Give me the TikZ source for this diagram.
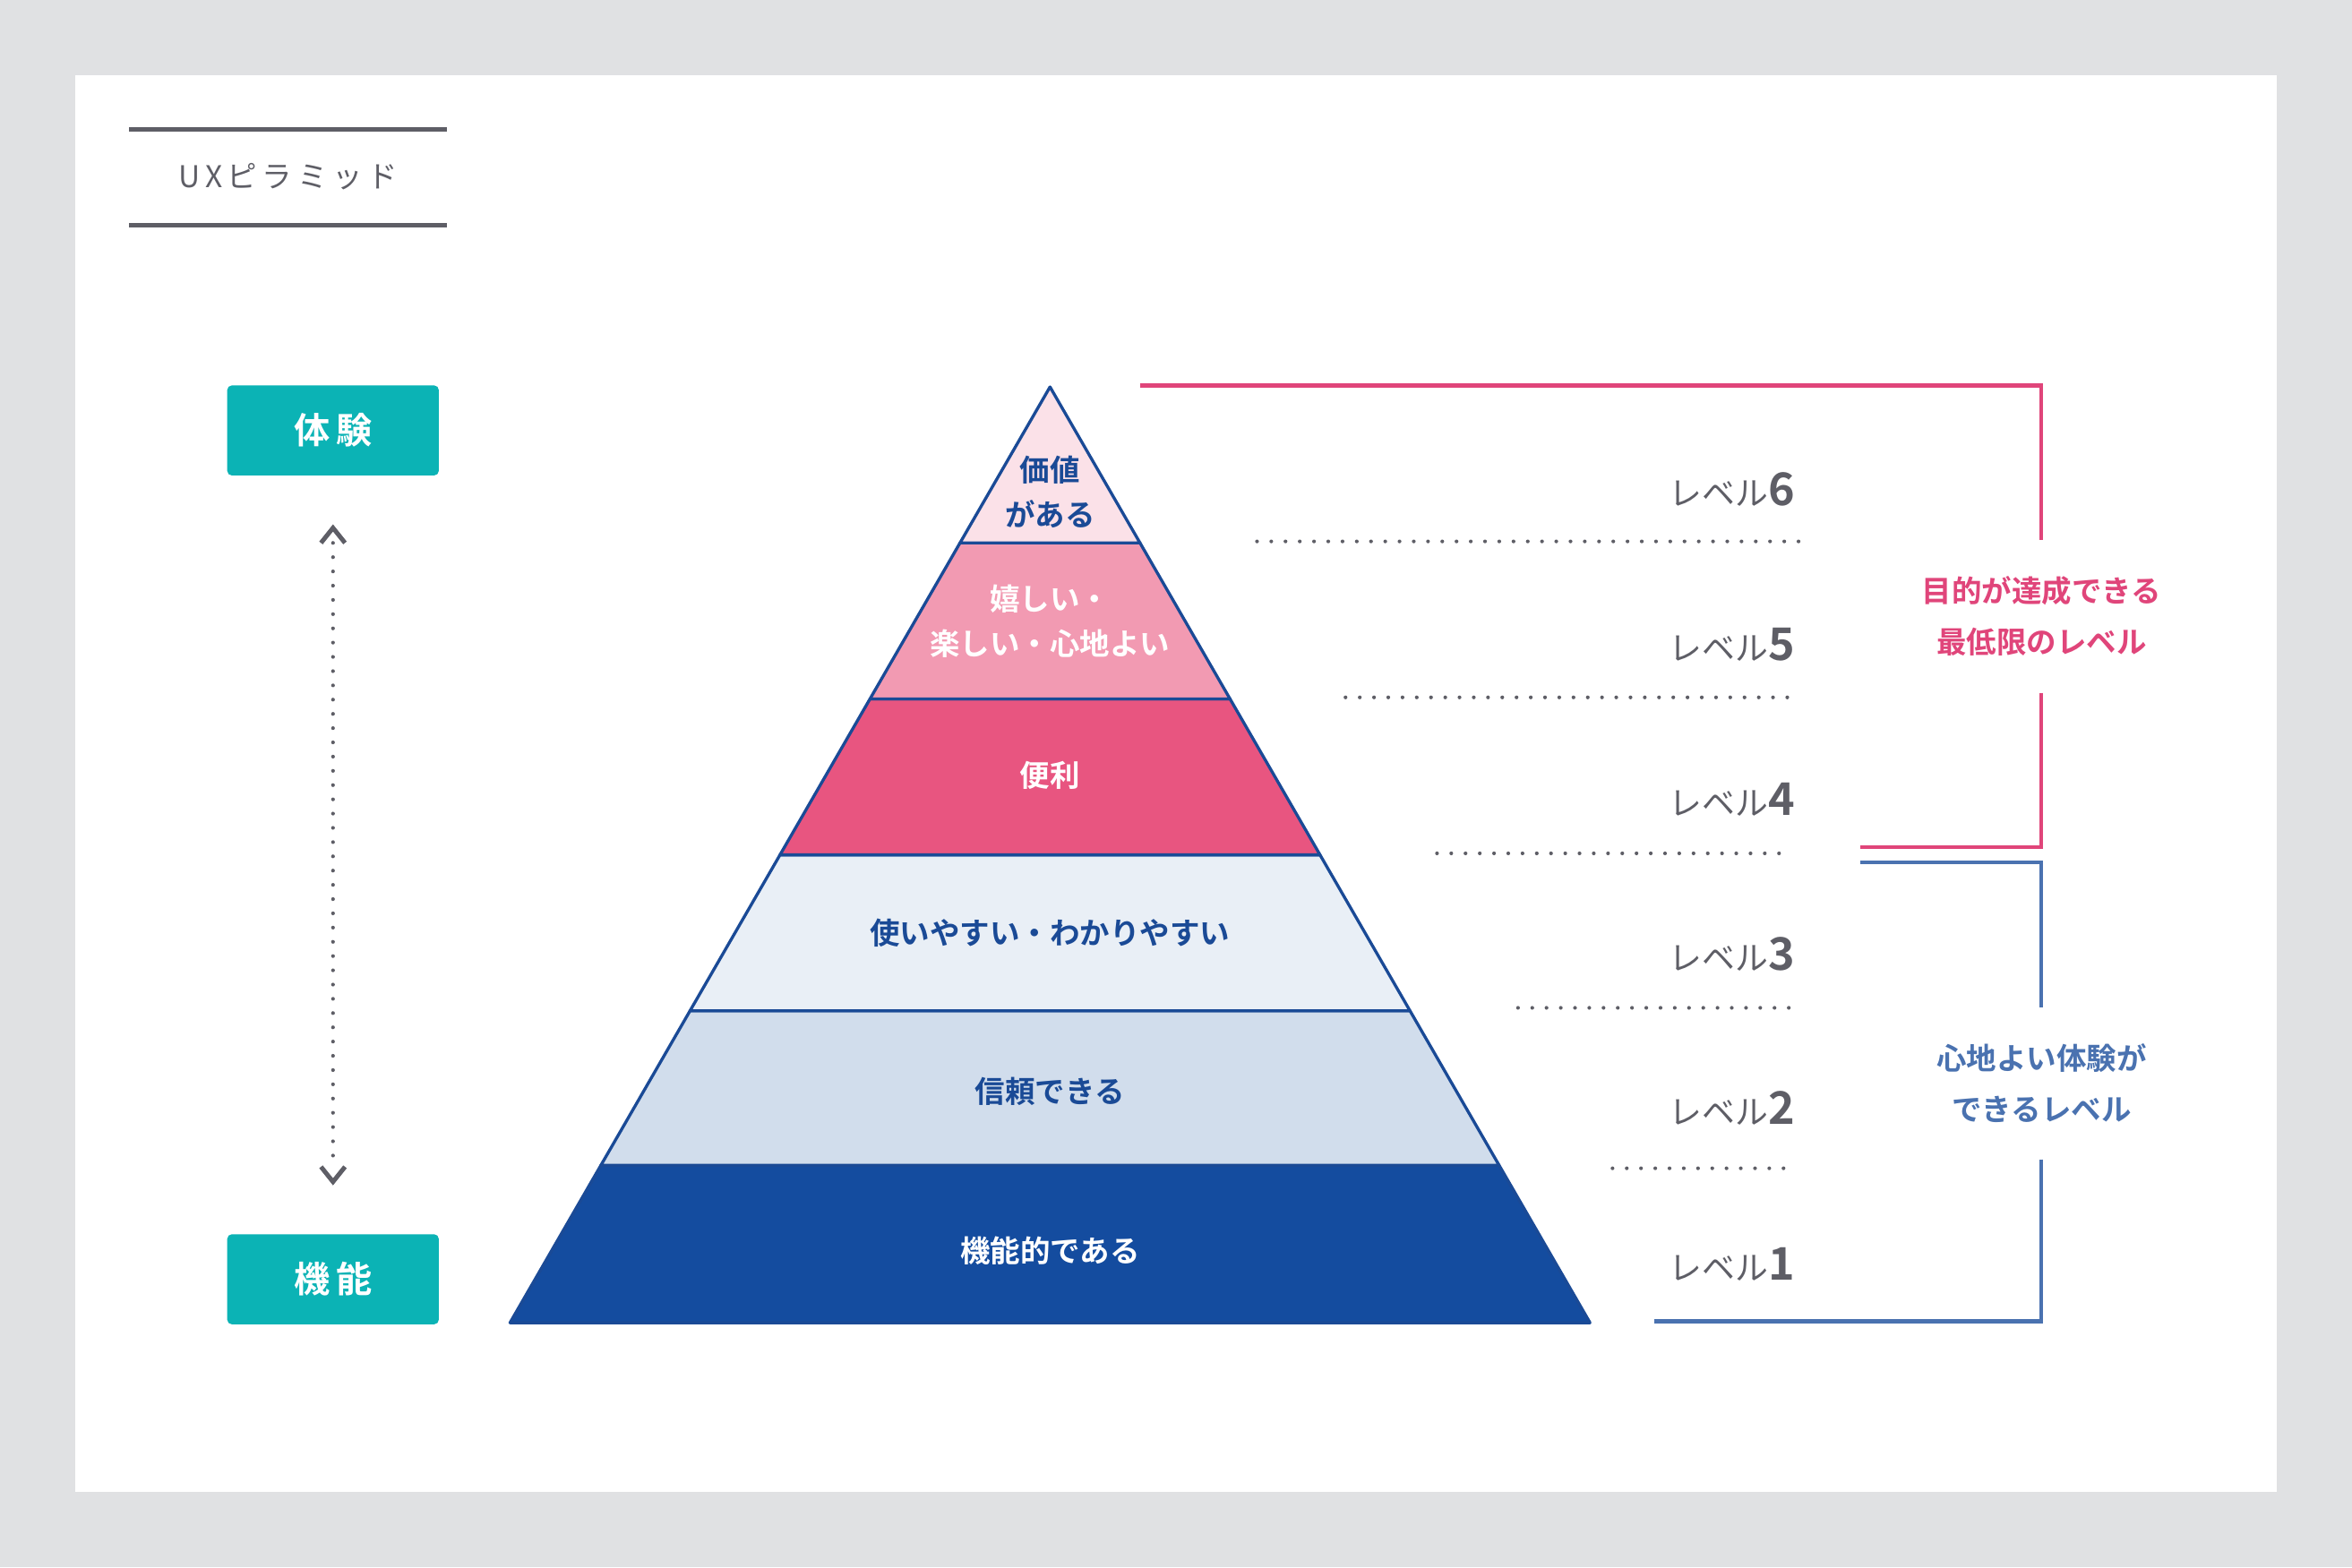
\documentclass[tikz,border=0pt]{standalone}
\usepackage{fontspec}
\setmainfont{Noto Sans CJK JP}[BoldFont={Noto Sans CJK JP Bold}]
\usetikzlibrary{arrows.meta}
\definecolor{bggray}{HTML}{E0E1E3}
\definecolor{tgray}{HTML}{5E5E66}
\definecolor{teal}{HTML}{0BB3B5}
\definecolor{edge}{HTML}{1A4A96}
\definecolor{l6}{HTML}{FBE1E8}
\definecolor{l5}{HTML}{F29AB2}
\definecolor{l4}{HTML}{E85580}
\definecolor{l3}{HTML}{E9EFF6}
\definecolor{l2}{HTML}{D1DDEC}
\definecolor{l1}{HTML}{144C9F}
\definecolor{dblue}{HTML}{1A4A96}
\definecolor{pinkb}{HTML}{E0457A}
\definecolor{blueb}{HTML}{4A72B0}
\tikzset{
  btn/.style={fill=teal,rounded corners=3pt,minimum width=141pt,minimum height=60pt,text=white,font=\bfseries\fontsize{24}{28}\selectfont},
  layer/.style={draw=edge,line width=2pt,line join=round},
  ltxt/.style={font=\bfseries\fontsize{20}{30}\selectfont,align=center},
  lvl/.style={anchor=east,text=tgray,font=\fontsize{22}{26}\selectfont},
  dots/.style={tgray,line width=2.5pt,dash pattern=on 0pt off 9.5pt,line cap=round},
  side/.style={font=\bfseries\fontsize{20}{34}\selectfont,align=center},
}
\begin{document}
\begin{tikzpicture}[x=1pt,y=-1pt]
\fill[bggray] (0,0) rectangle (1568,1045);
\fill[white] (50,50) rectangle (1518,995);
\draw[tgray,line width=3pt] (86,86) -- (298,86) (86,150) -- (298,150);
\node[text=tgray,font=\fontsize{20}{24}\selectfont] (title) at (192,118) {U\,X\,ピ\,ラ\,ミ\,ッ\,ド};
\node[btn] (exp) at (222,287) {体\,験};
\node[btn] (fun) at (222,853) {機\,能};
\coordinate (atop) at (222,350);
\coordinate (abot) at (222,790);
\draw[dots,line width=2.5pt] (222,362) -- (222,778);
\draw[tgray,line width=3pt] (214,362) -- (222,352) -- (230,362);
\draw[tgray,line width=3pt] (214,778) -- (222,788) -- (230,778);
% pyramid
\draw[layer,fill=l1] (400.6,777) -- (999.4,777) -- (1060,882) -- (340,882) -- cycle;
\draw[layer,fill=l2] (460,674) -- (940,674) -- (999.4,777) -- (400.6,777) -- cycle;
\draw[layer,fill=l3] (520,570) -- (880,570) -- (940,674) -- (460,674) -- cycle;
\draw[layer,fill=l4] (580,466) -- (820,466) -- (880,570) -- (520,570) -- cycle;
\draw[layer,fill=l5] (640,362) -- (760,362) -- (820,466) -- (580,466) -- cycle;
\draw[layer,fill=l6] (700,258) -- (760,362) -- (640,362) -- cycle;
\node[ltxt,text=dblue] (t6) at (700,328) {価値\\がある};
\node[ltxt,text=white] (t5) at (700,414) {嬉しい・\\楽しい・心地よい};
\node[ltxt,text=white] (t4) at (700,517) {便利};
\node[ltxt,text=dblue] (t3) at (700,622) {使いやすい・わかりやすい};
\node[ltxt,text=dblue] (t2) at (700,728) {信頼できる};
\node[ltxt,text=white] (t1) at (700,834) {機能的である};
% levels
\foreach \n/\y in {6/326,5/430,4/533,3/636,2/739,1/843}
  \node[lvl] (lv\n) at (1200,\y) {レベル{\bfseries\fontsize{30}{30}\selectfont\n}};
\draw[dots] (838,361) -- (1200,361);
\draw[dots] (897,465) -- (1197,465);
\draw[dots] (958,569) -- (1195,569);
\draw[dots] (1012,672) -- (1195,672);
\draw[dots] (1075,779) -- (1195,779);
% brackets
\node[side,text=pinkb] (pk) at (1361,411) {目的が達成できる\\最低限のレベル};
\node[side,text=blueb] (bl) at (1361,722) {心地よい体験が\\できるレベル};
\draw[pinkb,line width=2.5pt] (760,257) -- (1361,257) -- (1361,360);
\draw[pinkb,line width=2.5pt] (1361,462) -- (1361,565) -- (1240,565);
\draw[blueb,line width=2.5pt] (1240,575) -- (1361,575) -- (1361,672);
\draw[blueb,line width=2.5pt] (1361,773) -- (1361,881) -- (1103,881);
\end{tikzpicture}
\end{document}
